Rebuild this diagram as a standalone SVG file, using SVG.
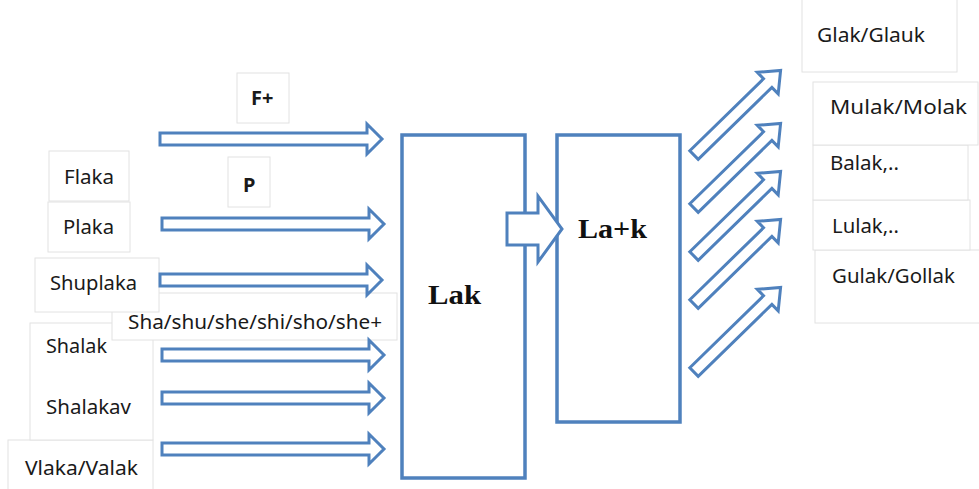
<svg xmlns="http://www.w3.org/2000/svg" width="979" height="489" viewBox="0 0 979 489">
<style>
.bg{fill:#fff}
.tb{fill:#fff;stroke:#e2e2e2;stroke-width:1}
.t{font-family:"Noto Sans","Open Sans",sans-serif;font-size:19px;fill:#1a1a1a}
.tbd{font-weight:bold;font-size:20px}
.big{font-family:"Liberation Serif","Times New Roman",serif;font-size:28px;font-weight:bold;fill:#111}
.box{fill:#fff;stroke:#4f81bd;stroke-width:3.5}
.ar{fill:#fff;stroke:#4f81bd;stroke-width:3;stroke-linejoin:miter}
</style>
<defs>
<path id="harr" d="M0,-6 L207,-6 L207,-15 L222,0 L207,15 L207,6 L0,6 Z"/>
<path id="darr" d="M0,-6 L103,-6 L103,-15 L121,0 L103,15 L103,6 L0,6 Z"/>
</defs>
<rect class="bg" width="979" height="489"/>

<g id="label-boxes">
<rect class="tb" x="237" y="73" width="52" height="50"/>
<rect class="tb" x="228" y="157" width="42" height="50"/>
<rect class="tb" x="49" y="151" width="80" height="50"/>
<rect class="tb" x="48" y="202" width="82" height="50"/>
<rect class="tb" x="8" y="440" width="145" height="60"/>
<rect class="tb" x="30" y="323" width="123" height="117"/>
<rect class="tb" x="112" y="293" width="285" height="47"/>
<rect class="tb" x="35" y="258" width="124" height="54"/>
<rect class="tb" x="802" y="-2" width="155" height="74"/>
<rect class="tb" x="815" y="250" width="170" height="73"/>
<rect class="tb" x="813" y="200" width="157" height="50"/>
<rect class="tb" x="813" y="145" width="155" height="55"/>
<rect class="tb" x="813" y="82" width="165" height="63"/>
</g>

<g id="node-lak">
<rect class="box" x="402" y="135" width="123" height="343"/>
<text class="big" x="428" y="304" textLength="53" lengthAdjust="spacingAndGlyphs">Lak</text>
</g>
<g id="node-lak2">
<rect class="box" x="557" y="135" width="123" height="287"/>
<text class="big" x="578" y="238" textLength="69" lengthAdjust="spacingAndGlyphs">La+k</text>
</g>

<g id="connectors">
<use href="#harr" class="ar" x="160" y="139"/>
<use href="#harr" class="ar" x="162" y="224"/>
<use href="#harr" class="ar" x="160" y="280"/>
<use href="#harr" class="ar" x="162" y="355"/>
<use href="#harr" class="ar" x="162" y="398"/>
<use href="#harr" class="ar" x="162" y="449"/>
<path class="ar" d="M507,213 L538,213 L538,196 L562,229 L538,262 L538,245 L507,245 Z"/>
<use href="#darr" class="ar" transform="translate(694,155) rotate(-44.3)"/>
<use href="#darr" class="ar" transform="translate(694,208) rotate(-44.3)"/>
<use href="#darr" class="ar" transform="translate(694,256) rotate(-44.3)"/>
<use href="#darr" class="ar" transform="translate(694,304) rotate(-44.3)"/>
<use href="#darr" class="ar" transform="translate(694,372) rotate(-44.3)"/>
</g>

<g id="n-fplus"><text class="t tbd" x="251" y="105">F+</text></g>
<g id="n-p"><text class="t tbd" x="243" y="192">P</text></g>
<g id="n-flaka"><text class="t" x="64" y="184" textLength="50" lengthAdjust="spacingAndGlyphs">Flaka</text></g>
<g id="n-plaka"><text class="t" x="63" y="234" textLength="51" lengthAdjust="spacingAndGlyphs">Plaka</text></g>
<g id="n-shuplaka"><text class="t" x="50" y="290" textLength="87" lengthAdjust="spacingAndGlyphs">Shuplaka</text></g>
<g id="n-sha"><text class="t" x="128" y="329" textLength="254" lengthAdjust="spacingAndGlyphs">Sha/shu/she/shi/sho/she+</text></g>
<g id="n-shalak"><text class="t" x="46" y="353" textLength="61" lengthAdjust="spacingAndGlyphs">Shalak</text></g>
<g id="n-shalakav"><text class="t" x="46" y="414" textLength="85" lengthAdjust="spacingAndGlyphs">Shalakav</text></g>
<g id="n-vlaka"><text class="t" x="25" y="475" textLength="113" lengthAdjust="spacingAndGlyphs">Vlaka/Valak</text></g>
<g id="n-glak"><text class="t" x="817" y="42" textLength="108" lengthAdjust="spacingAndGlyphs">Glak/Glauk</text></g>
<g id="n-mulak"><text class="t" x="830" y="114" textLength="137" lengthAdjust="spacingAndGlyphs">Mulak/Molak</text></g>
<g id="n-balak"><text class="t" x="830" y="170" textLength="69" lengthAdjust="spacingAndGlyphs">Balak,..</text></g>
<g id="n-lulak"><text class="t" x="832" y="233" textLength="67" lengthAdjust="spacingAndGlyphs">Lulak,..</text></g>
<g id="n-gulak"><text class="t" x="832" y="283" textLength="123" lengthAdjust="spacingAndGlyphs">Gulak/Gollak</text></g>
</svg>
